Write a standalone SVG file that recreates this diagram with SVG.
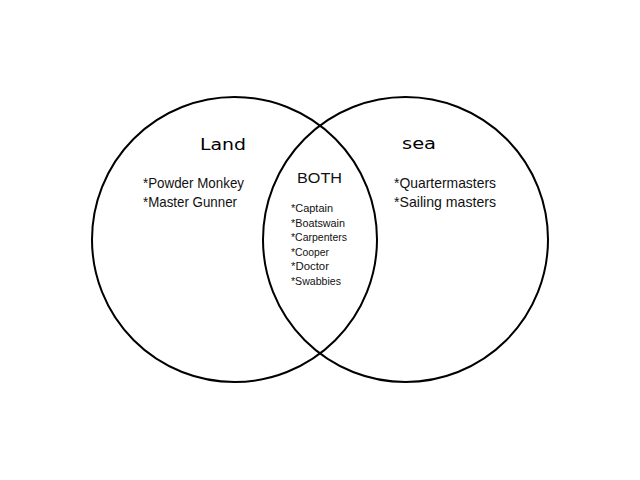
<svg xmlns="http://www.w3.org/2000/svg" width="640" height="480" viewBox="0 0 640 480">
<style>
.c{fill:none;stroke:#000;stroke-width:2}
.h{font-family:"DejaVu Sans","Liberation Sans",sans-serif;font-size:16px;fill:#000}
.t{font-family:"Liberation Sans",sans-serif;font-size:15px;fill:#111}
.s{font-family:"Liberation Sans",sans-serif;font-size:11px;fill:#111}
</style>
<rect width="640" height="480" fill="#fff"/>
<g id="land">
<circle class="c" cx="234.5" cy="239.5" r="142.5"/>
<text class="h" x="200" y="150" textLength="46" lengthAdjust="spacingAndGlyphs">Land</text>
<text class="t" x="143" y="188" textLength="101" lengthAdjust="spacingAndGlyphs">*Powder Monkey</text>
<text class="t" x="143" y="207" textLength="94" lengthAdjust="spacingAndGlyphs">*Master Gunner</text>
</g>
<g id="sea">
<circle class="c" cx="405.5" cy="239.5" r="142.5"/>
<text class="h" x="402" y="149" textLength="34" lengthAdjust="spacingAndGlyphs">sea</text>
<text class="t" x="394" y="188" textLength="102" lengthAdjust="spacingAndGlyphs">*Quartermasters</text>
<text class="t" x="394" y="207" textLength="102" lengthAdjust="spacingAndGlyphs">*Sailing masters</text>
</g>
<g id="both">
<text class="t" x="297" y="183" textLength="45" lengthAdjust="spacingAndGlyphs">BOTH</text>
<text class="s" x="291" y="212" textLength="42" lengthAdjust="spacingAndGlyphs">*Captain</text>
<text class="s" x="291" y="226.5" textLength="54" lengthAdjust="spacingAndGlyphs">*Boatswain</text>
<text class="s" x="291" y="241" textLength="56" lengthAdjust="spacingAndGlyphs">*Carpenters</text>
<text class="s" x="291" y="255.5" textLength="38" lengthAdjust="spacingAndGlyphs">*Cooper</text>
<text class="s" x="291" y="270" textLength="38" lengthAdjust="spacingAndGlyphs">*Doctor</text>
<text class="s" x="291" y="284.5" textLength="50" lengthAdjust="spacingAndGlyphs">*Swabbies</text>
</g>
<g id="connectors"/>
</svg>
